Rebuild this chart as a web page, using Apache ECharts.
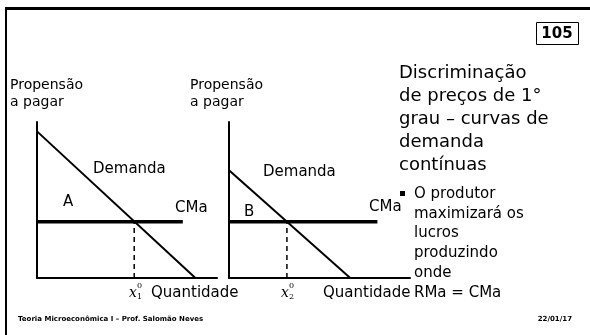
<!DOCTYPE html>
<html><head><meta charset="utf-8">
<script src="https://cdn.jsdelivr.net/npm/echarts@6/dist/echarts.min.js"></script>
<style>html,body{margin:0;padding:0;background:#fff}#c{width:590px;height:335px}</style>
</head><body><div id="c"></div>
<script>
// Left panel (A): demand, marginal cost, chosen quantity
const leftDemand = [[0, 9.4], [8.8, 0]];
const leftCMa = [[0, 3.6], [8.1, 3.6]];
const leftQty = [[5.4, 0], [5.4, 3.6]];
// Right panel (B)
const rightDemand = [[0, 6.9], [6.7, 0]];
const rightCMa = [[0, 3.6], [8.2, 3.6]];
const rightQty = [[3.2, 0], [3.2, 3.6]];

const titleLines = ['Discriminação', 'de preços de 1°', 'grau – curvas de', 'demanda', 'contínuas'];
const bulletLines = ['O produtor', 'maximizará os', 'lucros', 'produzindo', 'onde', 'RMa = CMa'];

const FONT = 'DejaVu Sans';
const chart = echarts.init(document.getElementById('c'), null, {renderer: 'canvas'});

function axis(idx) {
  return {
    type: 'value', gridIndex: idx, min: 0, max: 10,
    axisLine: {show: true, onZero: false, lineStyle: {color: '#000', width: 2}},
    axisTick: {show: false}, axisLabel: {show: false}, splitLine: {show: false}
  };
}
function line(data, xi, w, dashed) {
  return {
    type: 'line', xAxisIndex: xi, yAxisIndex: xi, data: data, symbol: 'none', silent: true,
    animation: false,
    lineStyle: {color: '#000', width: w, type: dashed ? [5, 4] : 'solid'}
  };
}
function txt(x, y, s, size, extra) {
  return Object.assign({type: 'text', x: x, y: y, silent: true,
    style: Object.assign({text: s, font: size + 'px "' + FONT + '"', fill: '#000',
      textVerticalAlign: 'middle'}, extra || {})});
}
const g = [];
// slide frame
g.push({type: 'line', shape: {x1: 5, y1: 8.5, x2: 590, y2: 8.5}, style: {stroke: '#000', lineWidth: 3}});
g.push({type: 'line', shape: {x1: 6, y1: 7, x2: 6, y2: 335}, style: {stroke: '#000', lineWidth: 2}});
// page number box
g.push({type: 'rect', shape: {x: 536.5, y: 22.5, width: 42, height: 22}, style: {fill: '#fff', stroke: '#000', lineWidth: 1}});
g.push(txt(557, 34, '105', 15, {font: 'bold 15px "' + FONT + '"', textAlign: 'center'}));
// axis titles
g.push(txt(10, 85, 'Propensão', 14));
g.push(txt(10, 102, 'a pagar', 14));
g.push(txt(190, 85, 'Propensão', 14));
g.push(txt(190, 102, 'a pagar', 14));
// left labels
g.push(txt(93, 169, 'Demanda', 15));
g.push(txt(63, 202, 'A', 15));
g.push(txt(175, 208, 'CMa', 15));
g.push(txt(151, 293, 'Quantidade', 15));
// right labels
g.push(txt(263, 172, 'Demanda', 15));
g.push(txt(244, 212, 'B', 15));
g.push(txt(369, 207, 'CMa', 15));
g.push(txt(323, 293, 'Quantidade', 15));
// x subscripts
function xsub(x, sub) {
  g.push(txt(x, 293, 'x', 14, {font: 'italic 14px "DejaVu Serif"'}));
  g.push(txt(x + 8, 286, '0', 8, {font: '8px "DejaVu Serif"'}));
  g.push(txt(x + 8, 297, sub, 8, {font: '8px "DejaVu Serif"'}));
}
xsub(129, '1');
xsub(281, '2');
// right column
titleLines.forEach((s, i) => g.push(txt(399, 73 + i * 23, s, 18)));
g.push({type: 'rect', shape: {x: 400, y: 191, width: 5, height: 5}, style: {fill: '#000'}});
bulletLines.forEach((s, i) => g.push(txt(414, 194 + i * 19.8, s, 15)));
// footer
g.push(txt(18, 319, 'Teoria Microeconômica I – Prof. Salomão Neves', 7, {font: 'bold 7px "' + FONT + '"'}));
g.push(txt(572, 319, '22/01/17', 7, {font: 'bold 7px "' + FONT + '"', textAlign: 'right'}));

chart.setOption({
  animation: false,
  backgroundColor: '#fff',
  grid: [
    {left: 37, top: 122, width: 180, height: 156},
    {left: 229, top: 122, width: 181, height: 156}
  ],
  xAxis: [axis(0), axis(1)],
  yAxis: [axis(0), axis(1)],
  series: [
    line(leftDemand, 0, 2), line(leftCMa, 0, 3.5), line(leftQty, 0, 1.5, true),
    line(rightDemand, 1, 2), line(rightCMa, 1, 3.5), line(rightQty, 1, 1.5, true)
  ],
  graphic: g
});
</script>
</body></html>
